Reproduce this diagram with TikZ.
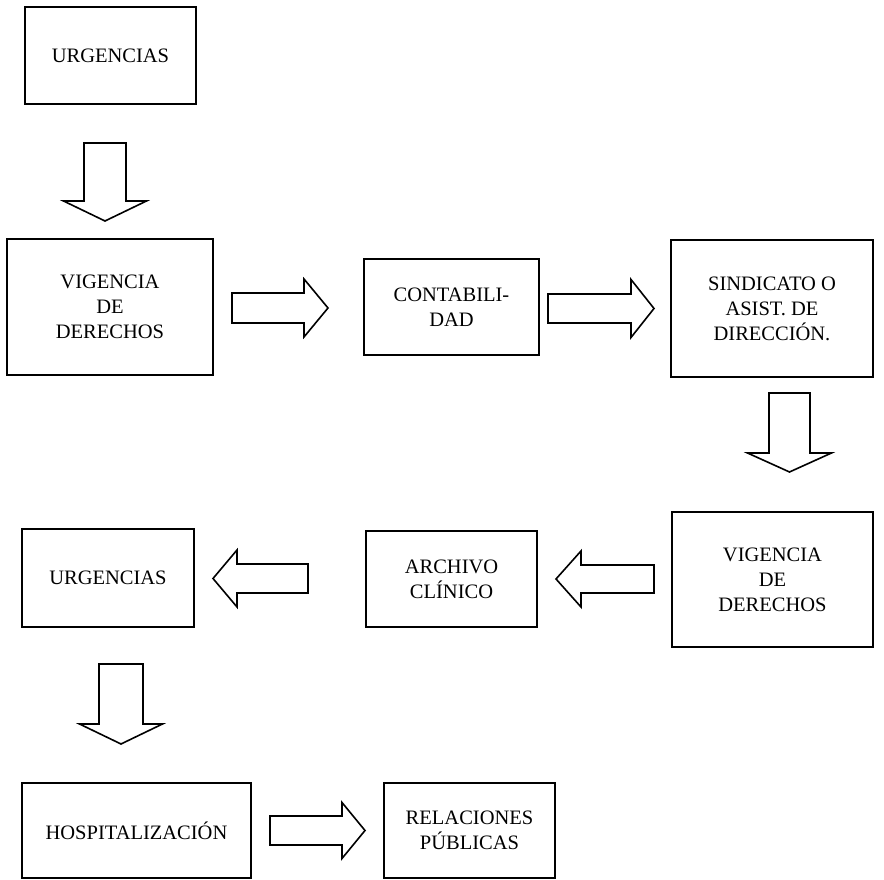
\documentclass[tikz,border=0pt]{standalone}
\usepackage{fontspec}
\setmainfont{Liberation Serif}

% Hollow block arrow: #1 tail point, #2 direction (deg), #3 length,
% #4 shaft half width, #5 head half width, #6 head length
\newcommand\hollowarrow[6]{%
  \draw[blockarrow, shift={(#1)}, rotate=#2]
    (0,-#4) -- ({#3-#6},-#4) -- ({#3-#6},-#5) -- (#3,0)
    -- ({#3-#6},#5) -- ({#3-#6},#4) -- (0,#4) -- cycle;}

\begin{document}
\begin{tikzpicture}[x=1pt,y=1pt,
  box/.style={draw, line width=1.6pt, align=center, inner sep=0pt,
    font=\fontsize{20.5}{25}\selectfont},
  blockarrow/.style={draw, line width=1.6pt, line join=miter}]
\useasboundingbox (0,0) rectangle (884,880);

% process boxes
\node[box, minimum width=171pt, minimum height=97pt]  (urg1) at (110.5,824.5) {URGENCIAS};
\node[box, minimum width=206pt, minimum height=136pt] (vig1) at (110,573)     {VIGENCIA\\DE\\DERECHOS};
\node[box, minimum width=175pt, minimum height=96pt]  (cont) at (451.5,573)   {CONTABILI-\\DAD};
\node[box, minimum width=202pt, minimum height=137pt] (sind) at (772,571.5)   {SINDICATO O\\ASIST. DE\\DIRECCIÓN.};
\node[box, minimum width=201pt, minimum height=135pt] (vig2) at (772.5,300.5) {VIGENCIA\\DE\\DERECHOS};
\node[box, minimum width=171pt, minimum height=96pt]  (arch) at (451.5,301)   {ARCHIVO\\CLÍNICO};
\node[box, minimum width=172pt, minimum height=98pt]  (urg2) at (108,302)     {URGENCIAS};
\node[box, minimum width=229pt, minimum height=95pt]  (hosp) at (136.5,49.5)  {HOSPITALIZACIÓN};
\node[box, minimum width=171pt, minimum height=95pt]  (rel)  at (469.5,49.5)  {RELACIONES\\PÚBLICAS};

% tails of the block arrows between the boxes
\coordinate (t-urg1-vig1) at (105,737);
\coordinate (t-vig1-cont) at (232,572);
\coordinate (t-cont-sind) at (548,571.5);
\coordinate (t-sind-vig2) at (789.5,487);
\coordinate (t-vig2-arch) at (654,301);
\coordinate (t-arch-urg2) at (308,301.5);
\coordinate (t-urg2-hosp) at (121,216);
\coordinate (t-hosp-rel)  at (270,49.5);

% block arrows
\hollowarrow{t-urg1-vig1}{-90}{78}{21}{41.5}{20}
\hollowarrow{t-vig1-cont}{0}{96}{15}{29}{24}
\hollowarrow{t-cont-sind}{0}{106}{14.5}{29}{23}
\hollowarrow{t-sind-vig2}{-90}{79}{20.5}{42}{19}
\hollowarrow{t-vig2-arch}{180}{98}{14}{28}{25}
\hollowarrow{t-arch-urg2}{180}{95}{14.5}{28.5}{24}
\hollowarrow{t-urg2-hosp}{-90}{80}{22}{41.5}{20}
\hollowarrow{t-hosp-rel}{0}{95}{14.5}{28}{23}
\end{tikzpicture}
\end{document}
